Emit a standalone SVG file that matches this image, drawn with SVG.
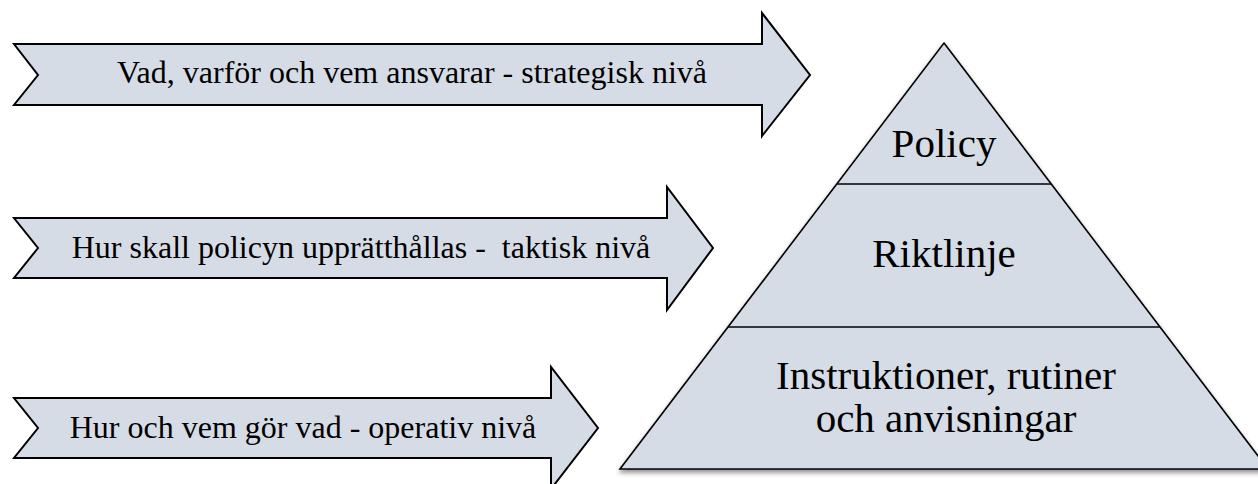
<svg xmlns="http://www.w3.org/2000/svg" width="1258" height="484" viewBox="0 0 1258 484">
  <defs>
    <filter id="shadow" x="-10%" y="-10%" width="120%" height="130%">
      <feGaussianBlur in="SourceAlpha" stdDeviation="2.5"/>
      <feOffset dx="0" dy="3" result="b"/>
      <feComponentTransfer><feFuncA type="linear" slope="0.45"/></feComponentTransfer>
      <feMerge><feMergeNode/><feMergeNode in="SourceGraphic"/></feMerge>
    </filter>
  </defs>
  <style>
    .arrow { fill: #D6DCE5; stroke: #000; stroke-width: 2; stroke-linejoin: miter; }
    .pyr { fill: #D6DCE5; stroke: #000; stroke-width: 1.6; }
    .div { stroke: #000; stroke-width: 1.6; fill: none; }
    .at { font-size: 32px; fill: #000; text-anchor: middle; white-space: pre; }
    .pt { font-size: 41px; fill: #000; text-anchor: middle; }
  </style>
  <rect width="1258" height="484" fill="#fff"/>
  <g id="arrow-strategisk">
    <polygon class="arrow" points="14,44 762,44 762,13 810,75 762,136 762,105 14,105 38,75"/>
    <text class="at" font-family="Liberation Serif, DejaVu Serif, serif" x="412" y="83">Vad, varför och vem ansvarar - strategisk nivå</text>
  </g>
  <g id="arrow-taktisk">
    <polygon class="arrow" points="14,218 667,218 667,187 713,248 667,310 667,278 14,278 38,248"/>
    <text class="at" font-family="Liberation Serif, DejaVu Serif, serif" x="361" y="258" xml:space="preserve">Hur skall policyn upprätthållas -  taktisk nivå</text>
  </g>
  <g id="arrow-operativ">
    <polygon class="arrow" points="14,398 551,398 551,367 598,428 551,489 551,458 14,458 38,428"/>
    <text class="at" font-family="Liberation Serif, DejaVu Serif, serif" x="303" y="438">Hur och vem gör vad - operativ nivå</text>
  </g>
  <g id="pyramid">
    <polygon class="pyr" filter="url(#shadow)" points="944,43 1268,469 620,469"/>
    <line class="div" x1="837" y1="184" x2="1051" y2="184"/>
    <line class="div" x1="728" y1="327" x2="1160" y2="327"/>
  </g>
  <g id="policy">
    <text class="pt" font-family="Liberation Serif, DejaVu Serif, serif" x="944" y="157">Policy</text>
  </g>
  <g id="riktlinje">
    <text class="pt" font-family="Liberation Serif, DejaVu Serif, serif" x="944" y="267">Riktlinje</text>
  </g>
  <g id="instruktioner">
    <text class="pt" font-family="Liberation Serif, DejaVu Serif, serif" x="946" y="389">Instruktioner, rutiner</text>
    <text class="pt" font-family="Liberation Serif, DejaVu Serif, serif" x="946" y="432">och anvisningar</text>
  </g>
  <g id="connectors"></g>
</svg>
